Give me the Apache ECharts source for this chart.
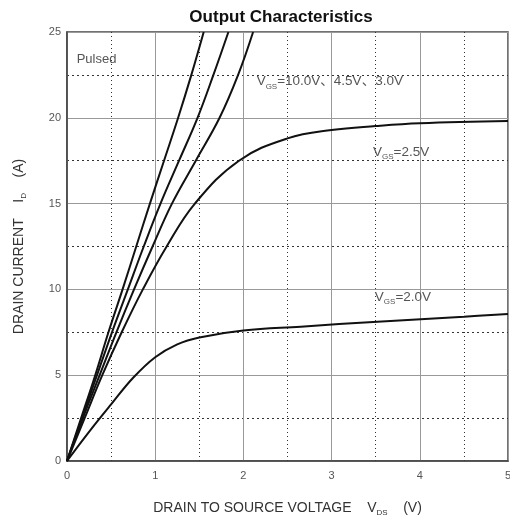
<!DOCTYPE html>
<html>
<head>
<meta charset="utf-8">
<script src="https://cdn.jsdelivr.net/npm/echarts@6/dist/echarts.min.js"></script>
<style>
  html, body { margin: 0; padding: 0; background: #fff; }
  #chart { width: 510px; height: 523px; }
</style>
</head>
<body>
<div id="chart"></div>
<script>
// curves: [Vds, Id]
var vgs10 = [[0,0],[0.16,2.5],[0.32,5],[0.47,7.5],[0.63,10],[0.785,12.5],[0.94,15],[1.1,17.5],[1.26,20],[1.41,22.5],[1.55,25]]
var vgs45 = [[0,0],[0.17,2.5],[0.34,5],[0.51,7.5],[0.69,10],[0.87,12.5],[1.06,15],[1.27,17.5],[1.48,20],[1.66,22.5],[1.83,25]]
var vgs30 = [[0,0],[0.18,2.5],[0.37,5],[0.56,7.5],[0.76,10],[0.97,12.5],[1.19,15],[1.46,17.5],[1.73,20],[1.94,22.5],[2.11,25]]
var vgs25 = [[0,0],[0.2,2.5],[0.4,5],[0.62,7.5],[0.86,10],[1.13,12.5],[1.45,15],[1.95,17.5],[2.5,18.8],[3,19.29],[3.5,19.52],[4,19.68],[5,19.81]]
var vgs20 = [[0,0],[0.25,1.7],[0.5,3.3],[0.75,4.85],[1,6.05],[1.25,6.8],[1.5,7.2],[2,7.6],[2.65,7.83],[3.52,8.12],[4.5,8.41],[5,8.57]]

// text labels inside the plot, anchored at [Vds, Id] (left, middle)
var notes = [
  { at: [0.11, 23.4], text: 'Pulsed' },
  { at: [2.15, 22.1], text: '{v|V}{s|GS}{t|=10.0V、4.5V、3.0V}' },
  { at: [3.47, 18.0], text: '{v|V}{s|GS}{t|=2.5V}' },
  { at: [3.49, 9.55], text: '{v|V}{s|GS}{t|=2.0V}' }
]

var chart = echarts.init(document.getElementById('chart'))
var font = '"Liberation Sans", Arial, "Noto Sans CJK SC", sans-serif'
var rich = {
  v: { fontSize: 13.5, color: '#555', fontFamily: font },
  s: { fontSize: 8, color: '#555', fontFamily: font, padding: [10, 0, 0, 0] },
  t: { fontSize: 13.5, color: '#555', fontFamily: font }
}
var subName = { fontSize: 8, color: '#333', fontFamily: font, padding: [10, 0, 0, 0] }

function curve(name, data) {
  return {
    name: name,
    type: 'line',
    data: data,
    smooth: 0.4,
    showSymbol: false,
    silent: true,
    lineStyle: { color: '#111', width: 2 }
  }
}

var option = {
  animation: false,
  title: {
    text: 'Output Characteristics',
    left: 276,
    textAlign: 'center',
    top: 4,
    textStyle: { fontSize: 17, fontWeight: 'bold', color: '#111', fontFamily: font }
  },
  grid: {
    left: 67, right: 2, top: 32, bottom: 62,
    outerBoundsMode: 'none',
    show: true, borderColor: '#444', borderWidth: 1.5
  },
  xAxis: {
    type: 'value', min: 0, max: 5, interval: 1,
    name: 'DRAIN TO SOURCE VOLTAGE    V{s|DS}    (V)',
    nameLocation: 'middle', nameGap: 38,
    nameTextStyle: { fontSize: 14, color: '#333', fontFamily: font, rich: { s: subName } },
    axisLine: { lineStyle: { color: '#444', width: 1.5 } },
    axisTick: { show: false },
    axisLabel: { color: '#555', fontSize: 11, margin: 9, fontFamily: font },
    splitLine: { lineStyle: { color: '#999', width: 1 } },
    minorTick: { show: false, splitNumber: 2 },
    minorSplitLine: { show: true, lineStyle: { color: '#333', width: 1, type: [1, 3] } }
  },
  yAxis: {
    type: 'value', min: 0, max: 25, interval: 5,
    name: 'DRAIN CURRENT    I{s|D}    (A)',
    nameLocation: 'middle', nameGap: 39,
    nameTextStyle: { fontSize: 14, color: '#333', fontFamily: font, rich: { s: subName } },
    axisLine: { show: true, lineStyle: { color: '#444', width: 1.5 } },
    axisTick: { show: false },
    axisLabel: { color: '#555', fontSize: 11, margin: 6, fontFamily: font },
    splitLine: { lineStyle: { color: '#999', width: 1 } },
    minorTick: { show: false, splitNumber: 2 },
    minorSplitLine: { show: true, lineStyle: { color: '#333', width: 1, type: [2, 3] } }
  },
  series: [
    curve('10.0V', vgs10),
    curve('4.5V', vgs45),
    curve('3.0V', vgs30),
    curve('2.5V', vgs25),
    curve('2.0V', vgs20)
  ]
}
chart.setOption(option)

// place the notes after the axes exist
chart.setOption({
  graphic: notes.map(function (n) {
    var p = chart.convertToPixel({ gridIndex: 0 }, n.at)
    return {
      type: 'text',
      x: p[0], y: p[1],
      style: {
        text: n.text,
        fontSize: 13, fill: '#555', fontFamily: font,
        verticalAlign: 'middle', align: 'left',
        rich: rich
      }
    }
  })
})

window.addEventListener('resize', function () {
  chart.resize()
})
</script>
</body>
</html>
